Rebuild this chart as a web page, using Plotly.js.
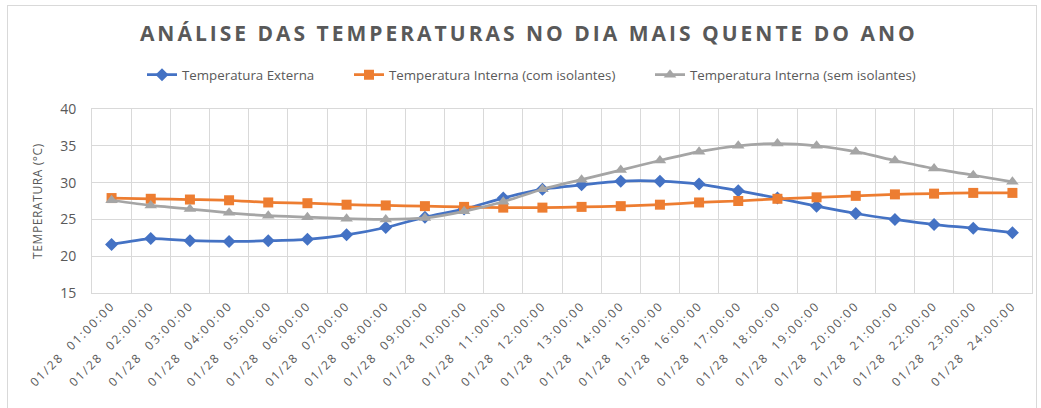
<!DOCTYPE html>
<html>
<head>
<meta charset="utf-8">
<script src="https://cdn.plot.ly/plotly-3.0.1.min.js"></script>
<style>
  html, body { margin: 0; padding: 0; background: #fff; }
  #frame { position: absolute; left: 7px; top: 5px; width: 1030px; height: 412px; border: 1px solid #d9d9d9; box-sizing: border-box; }
  #chart { position: absolute; left: 0; top: 0; width: 1041px; height: 408px; }
  #chart .gtitle { letter-spacing: 3px; }
  #chart .xtick text { letter-spacing: 1.9px; }
  #chart .ytitle { letter-spacing: 0.6px; }
</style>
</head>
<body>
<div id="frame"></div>
<div id="chart"></div>
<script>
const categories = [
  "01/28  01:00:00","01/28  02:00:00","01/28  03:00:00","01/28  04:00:00",
  "01/28  05:00:00","01/28  06:00:00","01/28  07:00:00","01/28  08:00:00",
  "01/28  09:00:00","01/28  10:00:00","01/28  11:00:00","01/28  12:00:00",
  "01/28  13:00:00","01/28  14:00:00","01/28  15:00:00","01/28  16:00:00",
  "01/28  17:00:00","01/28  18:00:00","01/28  19:00:00","01/28  20:00:00",
  "01/28  21:00:00","01/28  22:00:00","01/28  23:00:00","01/28  24:00:00"
];
const tempExterna = [21.6, 22.4, 22.1, 22.0, 22.1, 22.3, 22.9, 23.9,
                     25.3, 26.4, 27.9, 29.1, 29.7, 30.2, 30.2, 29.8,
                     28.9, 27.9, 26.8, 25.8, 25.0, 24.3, 23.8, 23.2];
const tempInternaCom = [27.9, 27.8, 27.7, 27.6, 27.3, 27.2, 27.0, 26.9,
                        26.8, 26.7, 26.6, 26.6, 26.7, 26.8, 27.0, 27.3,
                        27.5, 27.8, 28.0, 28.2, 28.4, 28.5, 28.6, 28.6];
const tempInternaSem = [27.6, 26.9, 26.4, 25.9, 25.5, 25.3, 25.1, 25.0,
                        25.2, 26.1, 27.4, 29.1, 30.4, 31.7, 33.0, 34.2,
                        35.0, 35.3, 35.0, 34.2, 33.0, 31.9, 31.0, 30.1];
const seriesNames = ["Temperatura Externa", "Temperatura Interna (com isolantes)", "Temperatura Interna (sem isolantes)"];

const traces = [
  { x: categories, y: tempExterna, name: seriesNames[0], type: "scatter", mode: "lines+markers", legend: "legend",
    line: { color: "#4472C4", width: 2.75, shape: "spline", smoothing: 0.6 },
    marker: { symbol: "diamond", size: 10, color: "#4472C4" } },
  { x: categories, y: tempInternaCom, name: seriesNames[1], type: "scatter", mode: "lines+markers", legend: "legend2",
    line: { color: "#ED7D31", width: 2.75, shape: "spline", smoothing: 0.6 },
    marker: { symbol: "square", size: 10, color: "#ED7D31" } },
  { x: categories, y: tempInternaSem, name: seriesNames[2], type: "scatter", mode: "lines+markers", legend: "legend3",
    line: { color: "#A5A5A5", width: 2.75, shape: "spline", smoothing: 0.6 },
    marker: { symbol: "triangle-up", size: 11, color: "#A5A5A5" } }
];

function legendAt(px) {
  return { orientation: "h", xref: "container", yref: "container", x: px / 1041, xanchor: "left",
           y: 1 - 75 / 408, yanchor: "middle", bgcolor: "rgba(0,0,0,0)",
           font: { family: "Open Sans, sans-serif", size: 13.3, color: "#595959" }, itemwidth: 30 };
}

const layout = {
  width: 1041, height: 408,
  margin: { l: 92, r: 9, t: 109, b: 115 },
  paper_bgcolor: "rgba(0,0,0,0)", plot_bgcolor: "#fff",
  font: { family: "Open Sans, sans-serif", color: "#595959" },
  title: { text: "<b>ANÁLISE DAS TEMPERATURAS NO DIA MAIS QUENTE DO ANO</b>",
           font: { family: "Open Sans, sans-serif", size: 21, color: "#595959" },
           x: 0.508, xanchor: "center", y: 0.918, yanchor: "middle", yref: "container" },
  showlegend: true,
  legend: legendAt(142),
  legend2: legendAt(349),
  legend3: legendAt(650),
  xaxis: { type: "category", range: [-0.5, categories.length - 0.5], tickson: "boundaries", ticks: "",
           showgrid: true, gridcolor: "#d9d9d9", gridwidth: 1,
           tickangle: -45, tickfont: { size: 12, color: "#595959" }, automargin: false,
           showline: true, linecolor: "#d9d9d9", mirror: true, zeroline: false },
  yaxis: { range: [15, 40], dtick: 5, showgrid: true, gridcolor: "#d9d9d9", gridwidth: 1, zeroline: false,
           showline: true, linecolor: "#d9d9d9", mirror: true, ticks: "", ticklabelstandoff: 12, automargin: false,
           tickfont: { size: 14, color: "#595959" },
           title: { text: "TEMPERATURA (°C)", font: { size: 12, color: "#595959" }, standoff: 14 } },
  hovermode: false
};

Plotly.newPlot("chart", traces, layout, { displayModeBar: false, staticPlot: true });
</script>
</body>
</html>
